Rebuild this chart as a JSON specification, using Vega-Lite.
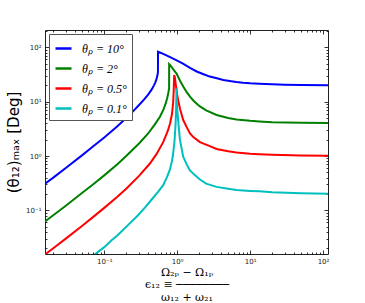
{
 "$schema": "https://vega.github.io/schema/vega-lite/v6.json",
 "width": 283, "height": 224,
 "autosize": {"type": "none"},
 "padding": {"left": 45, "top": 30, "right": 37, "bottom": 49},
 "background": "white",
 "config": {"view": {"stroke": "#222", "strokeWidth": 1}, "font": "DejaVu Sans",
   "axis": {"domain": false, "grid": false, "tickColor": "#000", "tickWidth": 0.8, "labelFontSize": 7, "labelColor": "#222"}},
 "data": {"values": [
  {"s":"10","x":0.0154,"y":0.31,"i":0},{"s":"10","x":0.02,"y":0.40,"i":1},{"s":"10","x":0.03,"y":0.61,"i":2},{"s":"10","x":0.05,"y":1.04,"i":3},{"s":"10","x":0.07,"y":1.5,"i":4},{"s":"10","x":0.1,"y":2.2,"i":5},{"s":"10","x":0.15,"y":3.5,"i":6},{"s":"10","x":0.2,"y":5.0,"i":7},{"s":"10","x":0.25,"y":6.7,"i":8},{"s":"10","x":0.3,"y":8.7,"i":9},{"s":"10","x":0.35,"y":10.9,"i":10},{"s":"10","x":0.4,"y":13.5,"i":11},{"s":"10","x":0.45,"y":17,"i":12},{"s":"10","x":0.48,"y":20,"i":13},{"s":"10","x":0.5,"y":22.5,"i":14},{"s":"10","x":0.52,"y":26,"i":15},{"s":"10","x":0.535,"y":30,"i":16},{"s":"10","x":0.545,"y":35,"i":17},{"s":"10","x":0.546,"y":83,"i":18},{"s":"10","x":0.6,"y":79,"i":19},{"s":"10","x":0.7,"y":72,"i":20},{"s":"10","x":0.8,"y":66,"i":21},{"s":"10","x":1.0,"y":57,"i":22},{"s":"10","x":1.2,"y":50,"i":23},{"s":"10","x":1.5,"y":42,"i":24},{"s":"10","x":1.85,"y":36,"i":25},{"s":"10","x":2.3,"y":32,"i":26},{"s":"10","x":2.8,"y":29,"i":27},{"s":"10","x":3.5,"y":27,"i":28},{"s":"10","x":4.3,"y":25,"i":29},{"s":"10","x":5.5,"y":23.8,"i":30},{"s":"10","x":6.5,"y":23,"i":31},{"s":"10","x":8,"y":22.3,"i":32},{"s":"10","x":10,"y":21.8,"i":33},{"s":"10","x":13.4,"y":21.4,"i":34},{"s":"10","x":20,"y":20.9,"i":35},{"s":"10","x":30,"y":20.6,"i":36},{"s":"10","x":50,"y":20.35,"i":37},{"s":"10","x":117,"y":20.15,"i":38},
  {"s":"2","x":0.0154,"y":0.0625,"i":0},{"s":"2","x":0.02,"y":0.081,"i":1},{"s":"2","x":0.03,"y":0.123,"i":2},{"s":"2","x":0.05,"y":0.21,"i":3},{"s":"2","x":0.07,"y":0.30,"i":4},{"s":"2","x":0.1,"y":0.44,"i":5},{"s":"2","x":0.15,"y":0.70,"i":6},{"s":"2","x":0.2,"y":1.0,"i":7},{"s":"2","x":0.3,"y":1.7,"i":8},{"s":"2","x":0.4,"y":2.6,"i":9},{"s":"2","x":0.5,"y":3.9,"i":10},{"s":"2","x":0.58,"y":5.3,"i":11},{"s":"2","x":0.65,"y":7.2,"i":12},{"s":"2","x":0.7,"y":9.5,"i":13},{"s":"2","x":0.73,"y":11.7,"i":14},{"s":"2","x":0.755,"y":14.5,"i":15},{"s":"2","x":0.775,"y":17.5,"i":16},{"s":"2","x":0.776,"y":49,"i":17},{"s":"2","x":0.8,"y":47,"i":18},{"s":"2","x":0.85,"y":42.5,"i":19},{"s":"2","x":0.9,"y":38,"i":20},{"s":"2","x":0.98,"y":33,"i":21},{"s":"2","x":1.1,"y":24,"i":22},{"s":"2","x":1.21,"y":19,"i":23},{"s":"2","x":1.35,"y":15,"i":24},{"s":"2","x":1.5,"y":12.4,"i":25},{"s":"2","x":1.7,"y":10.2,"i":26},{"s":"2","x":2.05,"y":8.2,"i":27},{"s":"2","x":2.5,"y":6.9,"i":28},{"s":"2","x":3.47,"y":5.7,"i":29},{"s":"2","x":5,"y":5.0,"i":30},{"s":"2","x":6.5,"y":4.7,"i":31},{"s":"2","x":10,"y":4.45,"i":32},{"s":"2","x":13.4,"y":4.33,"i":33},{"s":"2","x":20,"y":4.2,"i":34},{"s":"2","x":50,"y":4.08,"i":35},{"s":"2","x":117,"y":4.04,"i":36},
  {"s":"0.5","x":0.0154,"y":0.0154,"i":0},{"s":"0.5","x":0.02,"y":0.0201,"i":1},{"s":"0.5","x":0.03,"y":0.0305,"i":2},{"s":"0.5","x":0.05,"y":0.052,"i":3},{"s":"0.5","x":0.07,"y":0.075,"i":4},{"s":"0.5","x":0.1,"y":0.111,"i":5},{"s":"0.5","x":0.15,"y":0.176,"i":6},{"s":"0.5","x":0.2,"y":0.25,"i":7},{"s":"0.5","x":0.3,"y":0.43,"i":8},{"s":"0.5","x":0.42,"y":0.72,"i":9},{"s":"0.5","x":0.52,"y":1.08,"i":10},{"s":"0.5","x":0.643,"y":1.8,"i":11},{"s":"0.5","x":0.72,"y":2.6,"i":12},{"s":"0.5","x":0.753,"y":3.05,"i":13},{"s":"0.5","x":0.8,"y":4.0,"i":14},{"s":"0.5","x":0.85,"y":6.0,"i":15},{"s":"0.5","x":0.88,"y":9.5,"i":16},{"s":"0.5","x":0.895,"y":15,"i":17},{"s":"0.5","x":0.905,"y":24,"i":18},{"s":"0.5","x":0.91,"y":31,"i":19},{"s":"0.5","x":0.93,"y":28,"i":20},{"s":"0.5","x":0.96,"y":20,"i":21},{"s":"0.5","x":1.0,"y":13.5,"i":22},{"s":"0.5","x":1.03,"y":10.7,"i":23},{"s":"0.5","x":1.1,"y":7.2,"i":24},{"s":"0.5","x":1.21,"y":4.6,"i":25},{"s":"0.5","x":1.35,"y":3.4,"i":26},{"s":"0.5","x":1.5,"y":2.6,"i":27},{"s":"0.5","x":1.65,"y":2.25,"i":28},{"s":"0.5","x":2.05,"y":1.8,"i":29},{"s":"0.5","x":2.8,"y":1.52,"i":30},{"s":"0.5","x":3.47,"y":1.35,"i":31},{"s":"0.5","x":5,"y":1.22,"i":32},{"s":"0.5","x":6.5,"y":1.16,"i":33},{"s":"0.5","x":10,"y":1.1,"i":34},{"s":"0.5","x":13.4,"y":1.075,"i":35},{"s":"0.5","x":20,"y":1.05,"i":36},{"s":"0.5","x":50,"y":1.02,"i":37},{"s":"0.5","x":117,"y":1.01,"i":38},
  {"s":"0.1","x":0.07,"y":0.0145,"i":0},{"s":"0.1","x":0.1,"y":0.021,"i":1},{"s":"0.1","x":0.126,"y":0.028,"i":2},{"s":"0.1","x":0.15,"y":0.034,"i":3},{"s":"0.1","x":0.213,"y":0.054,"i":4},{"s":"0.1","x":0.28,"y":0.077,"i":5},{"s":"0.1","x":0.361,"y":0.112,"i":6},{"s":"0.1","x":0.45,"y":0.16,"i":7},{"s":"0.1","x":0.55,"y":0.22,"i":8},{"s":"0.1","x":0.643,"y":0.29,"i":9},{"s":"0.1","x":0.72,"y":0.40,"i":10},{"s":"0.1","x":0.794,"y":0.56,"i":11},{"s":"0.1","x":0.85,"y":0.82,"i":12},{"s":"0.1","x":0.88,"y":1.1,"i":13},{"s":"0.1","x":0.92,"y":1.9,"i":14},{"s":"0.1","x":0.95,"y":3.8,"i":15},{"s":"0.1","x":0.965,"y":7,"i":16},{"s":"0.1","x":0.975,"y":12,"i":17},{"s":"0.1","x":0.98,"y":17.6,"i":18},{"s":"0.1","x":0.985,"y":12,"i":19},{"s":"0.1","x":0.995,"y":8,"i":20},{"s":"0.1","x":1.03,"y":4.6,"i":21},{"s":"0.1","x":1.09,"y":2.0,"i":22},{"s":"0.1","x":1.21,"y":0.97,"i":23},{"s":"0.1","x":1.35,"y":0.7,"i":24},{"s":"0.1","x":1.49,"y":0.55,"i":25},{"s":"0.1","x":1.7,"y":0.46,"i":26},{"s":"0.1","x":2.05,"y":0.37,"i":27},{"s":"0.1","x":2.5,"y":0.31,"i":28},{"s":"0.1","x":3.47,"y":0.27,"i":29},{"s":"0.1","x":5,"y":0.25,"i":30},{"s":"0.1","x":6.5,"y":0.237,"i":31},{"s":"0.1","x":10,"y":0.228,"i":32},{"s":"0.1","x":13.4,"y":0.224,"i":33},{"s":"0.1","x":20,"y":0.215,"i":34},{"s":"0.1","x":50,"y":0.206,"i":35},{"s":"0.1","x":117,"y":0.202,"i":36}
 ]},
 "layer": [
  {"mark": {"type": "line", "strokeWidth": 2, "clip": true},
   "encoding": {
    "x": {"field": "x", "type": "quantitative",
      "scale": {"type": "log", "domain": [0.0154, 117], "nice": false},
      "axis": {"orient": "bottom", "values": [0.1, 1, 10, 100], "tickSize": -4, "labelPadding": 7,
        "labelExpr": "datum.value < 0.5 ? '10⁻¹' : datum.value < 5 ? '10⁰' : datum.value < 50 ? '10¹' : '10²'",
        "title": ["\u2003\u2003\u2003Ω₂ₚ − Ω₁ₚ", "ϵ₁₂ ≡ ────────", "\u2003\u2003\u2003ω₁₂ + ω₂₁"],
        "titleFont": "DejaVu Serif", "titleFontSize": 11, "titleFontWeight": "normal", "titleLineHeight": 12.5, "titlePadding": 2, "titleColor": "#000"}},
    "y": {"field": "y", "type": "quantitative",
      "scale": {"type": "log", "domain": [0.0157, 209], "nice": false},
      "axis": {"orient": "left", "values": [0.1, 1, 10, 100], "tickSize": -4, "labelPadding": 8,
        "labelExpr": "datum.value < 0.5 ? '10⁻¹' : datum.value < 5 ? '10⁰' : datum.value < 50 ? '10¹' : '10²'",
        "title": "(θ₁₂)ₘₐₓ [Deg]", "titleFont": "DejaVu Sans", "titleFontSize": 15, "titleFontWeight": "normal", "titlePadding": 4, "titleColor": "#000"}},
    "color": {"field": "s", "type": "nominal",
      "scale": {"domain": ["10", "2", "0.5", "0.1"], "range": ["#0000ff", "#008000", "#ff0000", "#00bfbf"]},
      "legend": {"title": null, "orient": "top-left", "offset": 4, "padding": 5, "strokeColor": "#555", "fillColor": "white",
        "symbolType": "stroke", "symbolStrokeWidth": 2.5, "symbolSize": 256, "labelFont": "Liberation Serif", "labelFontStyle": "italic",
        "labelFontSize": 12, "rowPadding": 4, "labelOffset": 9, "labelColor": "#000",
        "labelExpr": "'θₚ = ' + datum.label + '°'"}},
    "order": {"field": "i", "type": "quantitative"}
   }},
  {"mark": {"type": "line", "opacity": 0},
   "encoding": {
    "x": {"field": "x", "type": "quantitative", "axis": {"orient": "bottom", "values": [0.02,0.03,0.04,0.05,0.06,0.07,0.08,0.09,0.2,0.3,0.4,0.5,0.6,0.7,0.8,0.9,2,3,4,5,6,7,8,9,20,30,40,50,60,70,80,90], "labels": false, "tickSize": -2, "title": null}},
    "y": {"field": "y", "type": "quantitative", "axis": {"orient": "left", "values": [0.02,0.03,0.04,0.05,0.06,0.07,0.08,0.09,0.2,0.3,0.4,0.5,0.6,0.7,0.8,0.9,2,3,4,5,6,7,8,9,20,30,40,50,60,70,80,90,200], "labels": false, "tickSize": -2, "title": null}},
    "detail": {"field": "s"}
   }},
  {"mark": {"type": "line", "opacity": 0},
   "encoding": {
    "x": {"field": "x", "type": "quantitative", "axis": {"orient": "top", "values": [0.1, 1, 10, 100], "labels": false, "tickSize": -4, "title": null}},
    "y": {"field": "y", "type": "quantitative", "axis": {"orient": "right", "values": [0.1, 1, 10, 100], "labels": false, "tickSize": -4, "title": null}},
    "detail": {"field": "s"}
   }},
  {"mark": {"type": "line", "opacity": 0},
   "encoding": {
    "x": {"field": "x", "type": "quantitative", "axis": {"orient": "top", "values": [0.02,0.03,0.04,0.05,0.06,0.07,0.08,0.09,0.2,0.3,0.4,0.5,0.6,0.7,0.8,0.9,2,3,4,5,6,7,8,9,20,30,40,50,60,70,80,90], "labels": false, "tickSize": -2, "title": null}},
    "y": {"field": "y", "type": "quantitative", "axis": {"orient": "right", "values": [0.02,0.03,0.04,0.05,0.06,0.07,0.08,0.09,0.2,0.3,0.4,0.5,0.6,0.7,0.8,0.9,2,3,4,5,6,7,8,9,20,30,40,50,60,70,80,90,200], "labels": false, "tickSize": -2, "title": null}},
    "detail": {"field": "s"}
   }}
 ],
 "resolve": {"axis": {"x": "independent", "y": "independent"}}
}
